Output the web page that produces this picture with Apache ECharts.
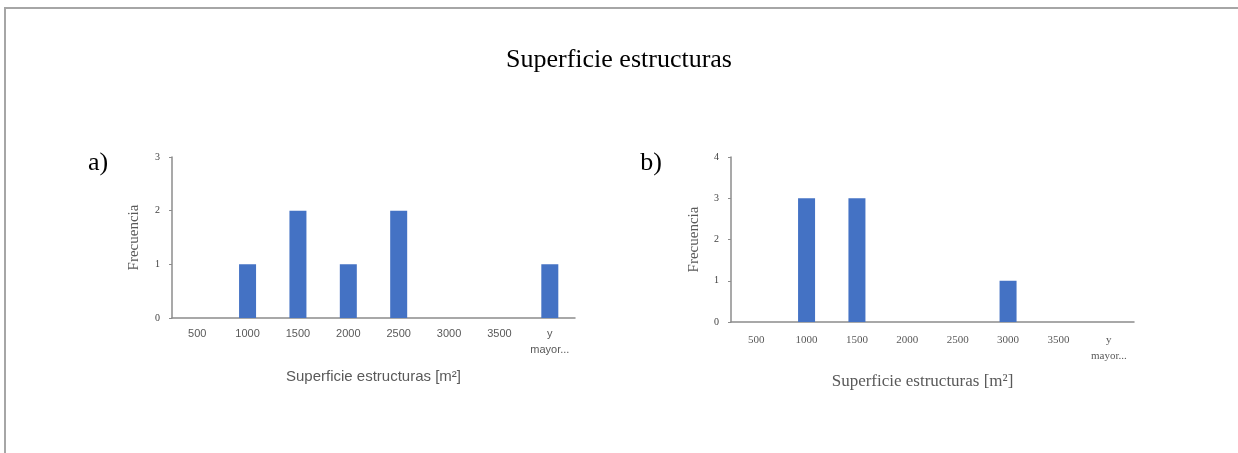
<!DOCTYPE html>
<html>
<head>
<meta charset="utf-8">
<title>Superficie estructuras</title>
<script src="https://cdn.jsdelivr.net/npm/echarts@6/dist/echarts.min.js"></script>
<style>
  html, body { margin: 0; padding: 0; background: #ffffff; }
  #chart { width: 1238px; height: 453px; }
</style>
</head>
<body>
<div id="chart"></div>
<script>
// Histogram bins (upper limits in m²) shared by both panels
const categories = ['500', '1000', '1500', '2000', '2500', '3000', '3500', 'y mayor...'];
// Frequencies per bin
const frecuenciaA = [0, 1, 2, 1, 2, 0, 0, 1];
const frecuenciaB = [0, 3, 3, 0, 0, 1, 0, 0];
// Y tick settings
const yMaxA = 3;
const yMaxB = 4;

const SERIF = '"Liberation Serif", "DejaVu Serif", serif';
const SANS = '"Liberation Sans", Arial, sans-serif';
const AXIS_GREY = '#8c8c8c';
const LABEL_GREY = '#595959';
const BAR_BLUE = '#4472C4';

function xAxisFor(gridIndex, labelFont, labelSize, labelMargin, nameFont, nameSize, namePad) {
  return {
    type: 'category',
    gridIndex: gridIndex,
    data: categories,
    boundaryGap: true,
    axisLine: { show: true, lineStyle: { color: AXIS_GREY, width: 1.5 } },
    axisTick: { show: false },
    splitLine: { show: false },
    axisLabel: {
      interval: 0,
      margin: labelMargin,
      color: LABEL_GREY,
      fontFamily: labelFont,
      fontSize: labelSize,
      lineHeight: 16,
      formatter: v => v.replace(' ', '\n')
    },
    name: 'Superficie estructuras [m²]',
    nameLocation: 'middle',
    nameGap: 51,
    nameTextStyle: {
      fontFamily: nameFont,
      fontSize: nameSize,
      color: LABEL_GREY,
      padding: namePad
    }
  };
}

function yAxisFor(gridIndex, maxVal, nameGap) {
  return {
    type: 'value',
    gridIndex: gridIndex,
    min: 0,
    max: maxVal,
    interval: 1,
    axisLine: { show: true, lineStyle: { color: AXIS_GREY, width: 1.5 } },
    axisTick: { show: true, inside: false, length: 3, lineStyle: { color: AXIS_GREY } },
    splitLine: { show: false },
    axisLabel: {
      margin: 12,
      color: '#404040',
      fontFamily: SERIF,
      fontSize: 10
    },
    name: 'Frecuencia',
    nameLocation: 'middle',
    nameRotate: 90,
    nameGap: nameGap,
    nameTextStyle: {
      fontFamily: SERIF,
      fontSize: 15,
      color: LABEL_GREY
    }
  };
}

const chart = echarts.init(document.getElementById('chart'), null, { renderer: 'canvas' });

chart.setOption({
  backgroundColor: '#ffffff',
  animation: false,
  title: {
    text: 'Superficie estructuras',
    left: 'center',
    top: 42,
    textStyle: {
      fontFamily: SERIF,
      fontSize: 26,
      fontWeight: 'normal',
      color: '#000000'
    }
  },
  graphic: [
    {
      type: 'rect',
      shape: { x: 5, y: 8, width: 1400, height: 700 },
      style: { fill: 'none', stroke: '#a6a6a6', lineWidth: 2 },
      silent: true
    },
    {
      type: 'text',
      x: 98, y: 163,
      style: {
        text: 'a)',
        font: '26px ' + SERIF,
        fill: '#000000',
        textAlign: 'center',
        textVerticalAlign: 'middle'
      }
    },
    {
      type: 'text',
      x: 651, y: 163,
      style: {
        text: 'b)',
        font: '26px ' + SERIF,
        fill: '#000000',
        textAlign: 'center',
        textVerticalAlign: 'middle'
      }
    }
  ],
  grid: [
    { left: 172, top: 157, width: 403, height: 161, containLabel: false },
    { left: 731, top: 157, width: 403, height: 165, containLabel: false }
  ],
  xAxis: [
    xAxisFor(0, SANS, 11, 8, SANS, 15, [0, 0, 0, 0]),
    xAxisFor(1, SERIF, 11, 10, SERIF, 17, [0, 20, 0, 0])
  ],
  yAxis: [
    yAxisFor(0, yMaxA, 30),
    yAxisFor(1, yMaxB, 29)
  ],
  series: [
    {
      type: 'bar',
      name: 'a',
      xAxisIndex: 0,
      yAxisIndex: 0,
      data: frecuenciaA,
      barWidth: 17,
      itemStyle: { color: BAR_BLUE }
    },
    {
      type: 'bar',
      name: 'b',
      xAxisIndex: 1,
      yAxisIndex: 1,
      data: frecuenciaB,
      barWidth: 17,
      itemStyle: { color: BAR_BLUE }
    }
  ]
});
</script>
</body>
</html>
